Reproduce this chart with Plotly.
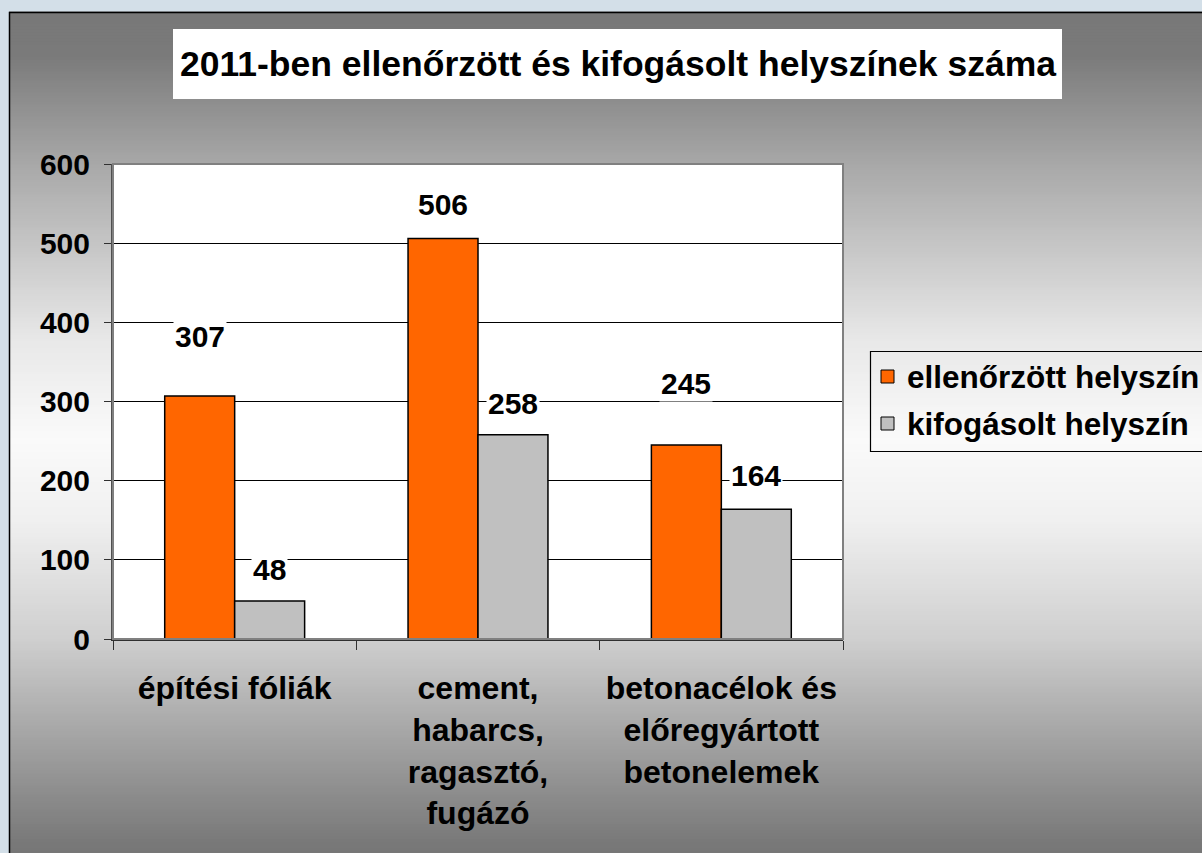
import plotly.graph_objects as go

# ---------------- data ----------------
categories = ["építési fóliák", "cement,<br>habarcs,<br>ragasztó,<br>fugázó",
              "betonacélok és<br>előregyártott<br>betonelemek"]
series_names = ["ellenőrzött helyszín", "kifogásolt helyszín"]
ellenorzott = [307, 506, 245]
kifogasolt = [48, 258, 164]
title_text = "2011-ben ellenőrzött és kifogásolt helyszínek száma"
y_ticks = [0, 100, 200, 300, 400, 500, 600]

# ---------------- style ----------------
W, H = 1202, 853
ML, MR, MT, MB = 113, 359, 164, 214
PW, PH = W - ML - MR, H - MT - MB
FONT = "Arial, Liberation Sans, sans-serif"
ORANGE = "#ff6600"
GRAY = "#c0c0c0"
label_shift_ell = [59, 34, 62]     # px above bar top (label centre)
label_shift_kif = [32, 31, 34]
bar_half_px = 35


def px(x):
    return (x - ML) / PW


def py(y):
    return (H - MB - y) / PH


# background gradient control points (pixel row -> grey level)
grad_pts = [(12, 120), (55, 122), (165, 168), (340, 232), (440, 250), (520, 240),
            (640, 207), (700, 180), (800, 138), (845, 120), (853, 119)]


def grey_at(y):
    for (y0, g0), (y1, g1) in zip(grad_pts[:-1], grad_pts[1:]):
        if y0 <= y <= y1:
            return g0 + (g1 - g0) * (y - y0) / (y1 - y0)
    return grad_pts[-1][1]


shapes = []
step = 3
y = 12
while y < H:
    g = int(round(grey_at(y + step / 2)))
    shapes.append(dict(type="rect", xref="paper", yref="paper", layer="below",
                       x0=px(9), x1=px(W + 10), y0=py(y - 0.5), y1=py(y + step + 0.5),
                       line=dict(width=0), fillcolor=f"rgb({g},{g},{g})"))
    y += step
# outer black frame
shapes.append(dict(type="rect", xref="paper", yref="paper", layer="below",
                   x0=px(9.5), x1=px(W + 20), y0=py(12.5), y1=py(H + 20),
                   line=dict(color="black", width=1.5), fillcolor="rgba(0,0,0,0)"))
# title box
shapes.append(dict(type="rect", xref="paper", yref="paper", layer="below",
                   x0=px(173), x1=px(1062), y0=py(29), y1=py(99),
                   line=dict(width=0), fillcolor="white"))
# plot area white background
shapes.append(dict(type="rect", xref="paper", yref="paper", layer="below",
                   x0=0, x1=1, y0=0, y1=1, line=dict(width=0), fillcolor="white"))
# plot-area frame (top / right grey)
shapes.append(dict(type="rect", xref="paper", yref="paper", layer="above",
                   x0=0, x1=1, y0=0, y1=1, line=dict(color="#808080", width=2),
                   fillcolor="rgba(0,0,0,0)"))
# legend frame
shapes.append(dict(type="rect", xref="paper", yref="paper", layer="above",
                   x0=px(870.5), x1=px(W + 20), y0=py(351.5), y1=py(451.5),
                   line=dict(color="black", width=1.2), fillcolor="rgba(0,0,0,0)"))

fig = go.Figure()
fig.add_trace(go.Bar(x=categories, y=ellenorzott, name=series_names[0],
                     marker=dict(color=ORANGE, line=dict(color="black", width=1.5))))
fig.add_trace(go.Bar(x=categories, y=kifogasolt, name=series_names[1],
                     marker=dict(color=GRAY, line=dict(color="black", width=1.5))))

annotations = []
lab_font = dict(family=FONT, size=30, color="black", weight="bold")
for cat, v, s in zip(categories, ellenorzott, label_shift_ell):
    annotations.append(dict(x=cat, y=v, xref="x", yref="y", text=str(v), showarrow=False,
                            xshift=-bar_half_px, yshift=s, yanchor="middle",
                            font=lab_font, bgcolor="white"))
for cat, v, s in zip(categories, kifogasolt, label_shift_kif):
    annotations.append(dict(x=cat, y=v, xref="x", yref="y", text=str(v), showarrow=False,
                            xshift=bar_half_px, yshift=s, yanchor="middle",
                            font=lab_font, bgcolor="white"))
# title
annotations.append(dict(x=px(617.5), y=py(64), xref="paper", yref="paper", text=title_text,
                        showarrow=False, xanchor="center", yanchor="middle",
                        font=dict(family=FONT, size=35.5, color="black", weight="bold")))
# legend (manual, clipped at the right edge like the reference)
leg_y = [377, 424]
leg_cols = [ORANGE, GRAY]
for name, col, ly in zip(series_names, leg_cols, leg_y):
    shapes.append(dict(type="rect", xref="paper", yref="paper", layer="above",
                       x0=px(881), x1=px(894), y0=py(ly - 7), y1=py(ly + 6),
                       line=dict(color="black", width=1), fillcolor=col))
    annotations.append(dict(x=px(905), y=py(ly), xref="paper", yref="paper", text=name,
                            showarrow=False, xanchor="left", yanchor="middle",
                            font=dict(family=FONT, size=31.5, color="black", weight="bold")))

fig.update_layout(
    width=W, height=H,
    margin=dict(l=ML, r=MR, t=MT, b=MB, autoexpand=False),
    paper_bgcolor="#d3dfe8",
    plot_bgcolor="white",
    showlegend=False,
    barmode="group",
    bargap=0.425,
    bargroupgap=0,
    shapes=shapes,
    annotations=annotations,
    xaxis=dict(type="category", showgrid=False, showline=True, linecolor="#303030", linewidth=2,
               ticks="outside", tickson="boundaries", ticklen=9, tickcolor="#303030",
               tickfont=dict(family=FONT, size=32, color="black", weight="bold"),
               ticklabelstandoff=20, zeroline=False, fixedrange=True),
    yaxis=dict(range=[0, 600], tickvals=y_ticks, showgrid=True, gridcolor="black", gridwidth=1,
               showline=True, linecolor="#505050", linewidth=2, ticks="outside", ticklen=7,
               tickcolor="#303030", zeroline=False,
               tickfont=dict(family=FONT, size=30, color="black", weight="bold"),
               ticklabelstandoff=8, fixedrange=True),
)

fig.write_html("out.html", config={"displayModeBar": False},
               post_script="document.body.style.margin='0';document.body.style.overflow='hidden';")
